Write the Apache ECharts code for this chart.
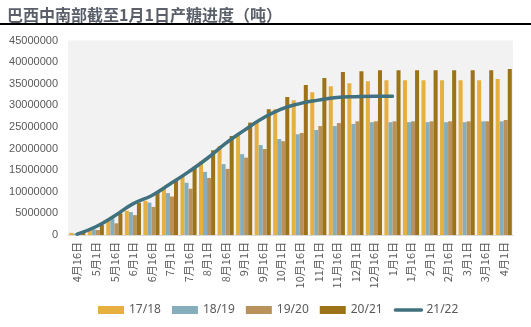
<!DOCTYPE html>
<html><head><meta charset="utf-8">
<script src="https://cdn.jsdelivr.net/npm/echarts@6/dist/echarts.min.js"></script>
<style>html,body{margin:0;padding:0;background:#fff}#c{width:531px;height:327px}</style>
</head><body><div id="c"></div>
<script>
var categories = ['4月16日','5月1日','5月16日','6月1日','6月16日','7月1日','7月16日','8月1日','8月16日','9月1日','9月16日','10月1日','10月16日','11月1日','11月16日','12月1日','12月16日','1月1日','1月16日','2月1日','2月16日','3月1日','3月16日','4月1日'];
var s1718 = [500000,1200000,3300000,5600000,7900000,11000000,13900000,17000000,20600000,23300000,26300000,29100000,31200000,33000000,34400000,35100000,35600000,35800000,35800000,35800000,35800000,35800000,35800000,36100000];
var s1819 = [350000,1300000,3850000,5300000,7500000,9700000,12100000,14600000,16400000,18700000,20800000,22200000,23300000,24300000,25200000,25700000,26100000,26100000,26100000,26100000,26100000,26100000,26300000,26300000];
var s1920 = [600000,1150000,2700000,4600000,6500000,8900000,10700000,13200000,15300000,17900000,19900000,21700000,23600000,25200000,25900000,26300000,26300000,26300000,26300000,26300000,26300000,26300000,26300000,26600000];
var s2021 = [900000,2300000,5000000,7500000,10000000,12800000,15800000,19600000,22900000,26000000,29100000,31900000,34700000,36300000,37700000,37900000,38100000,38100000,38100000,38100000,38100000,38100000,38100000,38400000];
var s2122 = [200000,1900000,4400000,7200000,9100000,11800000,14600000,17700000,21200000,24200000,27000000,29100000,30400000,31200000,31800000,32000000,32100000,32100000];
var yTicks = [0,5000000,10000000,15000000,20000000,25000000,30000000,35000000,40000000,45000000];

var chart = echarts.init(document.getElementById('c'));
var txt = '#595959';
function bar(name, data, color){
  return {name:name,type:'bar',data:data,itemStyle:{color:color},barGap:'0%',barCategoryGap:'13%'};
}
chart.setOption({
  animation:false,
  title:{text:'巴西中南部截至1月1日产糖进度（吨）',left:2,top:2,textStyle:{fontSize:16,fontWeight:'bold',color:'#5a5f6a',fontFamily:'Noto Sans CJK SC'}},
  graphic:[{type:'rect',shape:{x:0,y:23,width:531,height:2},style:{fill:'#000'}}],
  grid:{left:68,right:18,top:40.5,bottom:92,show:true,backgroundColor:'#F2F2F2',borderWidth:0},
  legend:{bottom:6,left:93,itemWidth:26,itemHeight:8,itemGap:11,
    textStyle:{color:txt,fontSize:12,fontFamily:'Noto Sans'},
    data:[{name:'17/18',icon:'rect'},{name:'18/19',icon:'rect'},{name:'19/20',icon:'rect'},{name:'20/21',icon:'rect'},
      {name:'21/22',itemStyle:{opacity:0},lineStyle:{width:3.5,color:'#41717F',cap:'round'}}]},
  xAxis:{type:'category',data:categories,
    axisLine:{lineStyle:{color:'#D9D9D9',width:1}},axisTick:{show:false},
    axisLabel:{rotate:90,interval:0,color:txt,fontSize:11,fontFamily:'Noto Sans CJK SC',margin:7}},
  yAxis:{type:'value',min:yTicks[0],max:yTicks[yTicks.length-1],interval:yTicks[1]-yTicks[0],
    splitLine:{show:false},axisLine:{show:false},axisTick:{show:false},
    axisLabel:{color:txt,fontSize:11,fontFamily:'Liberation Sans',margin:10,formatter:function(v){return String(v);}}},
  series:[
    bar('17/18',s1718,'#E6B040'),
    bar('18/19',s1819,'#86ADBB'),
    bar('19/20',s1920,'#B8925A'),
    bar('20/21',s2021,'#9C7318'),
    {name:'21/22',type:'line',data:s2122,smooth:true,symbol:'none',
     lineStyle:{color:'#41717F',width:3.5,cap:'round'},itemStyle:{color:'#41717F'},z:5}
  ]
});
</script></body></html>
